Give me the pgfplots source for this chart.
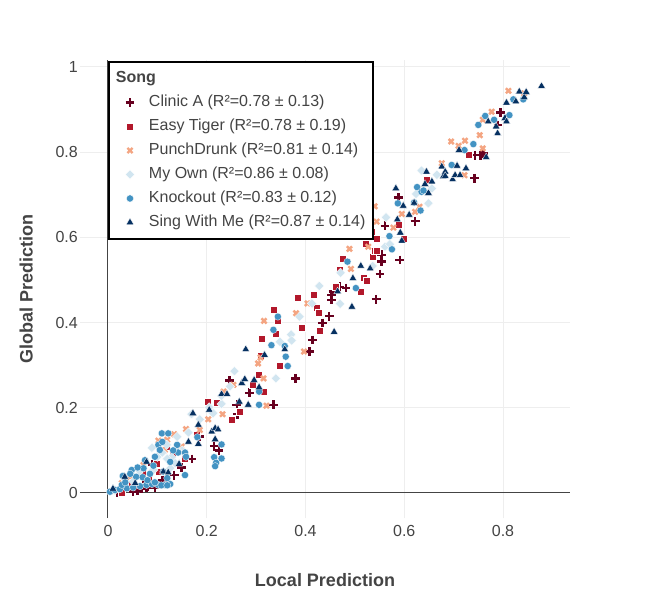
\documentclass[border=0pt]{standalone}
\usepackage{fontspec}
\setmainfont{Liberation Sans}
\usepackage{pgfplots}
\pgfplotsset{compat=1.18}
\definecolor{c1}{RGB}{103,0,31}
\definecolor{c2}{RGB}{178,24,43}
\definecolor{c3}{RGB}{244,165,130}
\definecolor{c4}{RGB}{209,229,240}
\definecolor{c5}{RGB}{67,147,195}
\definecolor{c6}{RGB}{5,48,97}
\definecolor{tc}{HTML}{444444}
\definecolor{gridc}{HTML}{EEEEEE}
\begin{document}
\begin{tikzpicture}
\useasboundingbox (-80bp,-82bp) rectangle (570bp,518bp);
\fill[white] (-80bp,-82bp) rectangle (570bp,518bp);
\begin{axis}[
  scale only axis, width=490bp, height=458bp,
  at={(0,0)}, anchor=south west,
  xmin=-0.0567, xmax=0.9357, ymin=-0.0587, ymax=1.0164,
  xtick={0,0.2,0.4,0.6,0.8}, xticklabels={0,0.2,0.4,0.6,0.8},
  ytick={0,0.2,0.4,0.6,0.8,1}, yticklabels={0,0.2,0.4,0.6,0.8,1},
  /pgf/number format/assume math mode=true,
  axis line style={draw=none}, major tick length=0pt,
  grid=major, major grid style={color=gridc, line width=1bp},
  xticklabel style={font=\fontsize{16bp}{19bp}\selectfont, text=tc, inner sep=0pt, yshift=-7bp},
  yticklabel style={font=\fontsize{16bp}{19bp}\selectfont, text=tc, inner sep=0pt, xshift=-2bp},
  xlabel={\textbf{Local Prediction}}, ylabel={\textbf{Global Prediction}},
  xlabel style={font=\fontsize{18bp}{21bp}\selectfont, text=tc, at={(axis description cs:0.5,-0.1354)}, anchor=center},
  ylabel style={font=\fontsize{18bp}{21bp}\selectfont, text=tc, at={(axis description cs:-0.110,0.5)}, anchor=center},
  legend cell align=left,
  legend image code/.code={\path (0bp,0bp) (24bp,0bp); \draw[#1] plot coordinates {(12bp,0bp)};},
  legend style={at={(axis cs:0,1.0141)}, anchor=north west, draw=black, line width=2bp, fill=white,
    inner xsep=8bp, inner ysep=9bp, column sep=6bp, row sep=9bp,
    font=\fontsize{16bp}{19bp}\selectfont, text=tc,
    nodes={inner sep=0pt, text height=11.5bp, text depth=3.5bp}},
]
\draw[color=tc, line width=1bp] (axis cs:0,-0.0587) -- (axis cs:0,1.0164);
\draw[color=tc, line width=1bp] (axis cs:-0.0567,0) -- (axis cs:0.9357,0);
\addlegendimage{empty legend}
\addlegendentry{\hspace*{-33bp}\textbf{Song}}
\addplot[only marks, mark=+, color=c1, mark size=4.4bp, mark options={line width=2.6bp}] coordinates {
(0.018,0.002)(0.051,0.003)(0.078,0.013)(0.095,0.013)(0.078,0.027)(0.080,0.016)(0.090,0.067)
(0.134,0.042)(0.149,0.060)(0.186,0.132)(0.215,0.110)(0.262,0.185)(0.246,0.264)(0.286,0.235)
(0.261,0.207)(0.335,0.207)(0.380,0.269)(0.408,0.332)(0.414,0.359)(0.434,0.399)(0.448,0.415)
(0.453,0.453)(0.456,0.473)(0.470,0.484)(0.482,0.481)(0.543,0.455)(0.551,0.514)(0.554,0.543)
(0.554,0.559)(0.591,0.547)(0.561,0.627)(0.622,0.638)(0.588,0.693)(0.742,0.739)(0.743,0.793)
(0.754,0.793)(0.760,0.797)(0.790,0.864)(0.795,0.893)(0.453,0.465)(0.030,0.010)(0.060,0.005)
(0.110,0.030)(0.225,0.100)(0.170,0.080)(0.088,0.020)(0.068,0.010)
};
\addlegendentry{Clinic A (R²=0.78 ± 0.13)}
\addplot[only marks, mark=square*, color=c2, mark size=3.5bp, mark options={draw=white, line width=0.3bp, fill=c2}] coordinates {
(0.028,0.000)(0.048,0.023)(0.082,0.031)(0.099,0.070)(0.102,0.050)(0.119,0.109)(0.156,0.081)
(0.180,0.136)(0.201,0.214)(0.220,0.212)(0.250,0.173)(0.267,0.191)(0.292,0.254)(0.306,0.277)
(0.315,0.239)(0.310,0.322)(0.347,0.299)(0.311,0.363)(0.340,0.373)(0.343,0.404)(0.336,0.430)
(0.392,0.389)(0.429,0.380)(0.385,0.459)(0.416,0.465)(0.423,0.436)(0.426,0.423)(0.461,0.484)
(0.470,0.525)(0.475,0.551)(0.512,0.473)(0.517,0.505)(0.524,0.498)(0.536,0.555)(0.541,0.569)
(0.521,0.586)(0.545,0.596)(0.533,0.613)(0.544,0.570)(0.588,0.631)(0.599,0.598)(0.645,0.736)
(0.731,0.795)(0.130,0.090)(0.070,0.045)
};
\addlegendentry{Easy Tiger (R²=0.78 ± 0.19)}
\addplot[only marks, mark=x, color=c3, mark size=3.6bp, mark options={line width=2.4bp}] coordinates {
(0.028,0.023)(0.045,0.038)(0.072,0.066)(0.102,0.123)(0.115,0.101)(0.134,0.138)(0.149,0.109)
(0.158,0.150)(0.186,0.148)(0.203,0.173)(0.232,0.185)(0.234,0.238)(0.254,0.254)(0.304,0.304)
(0.309,0.318)(0.315,0.269)(0.321,0.205)(0.316,0.404)(0.381,0.422)(0.397,0.332)(0.404,0.445)
(0.489,0.573)(0.492,0.526)(0.512,0.606)(0.527,0.578)(0.540,0.673)(0.544,0.637)(0.578,0.623)
(0.595,0.655)(0.622,0.660)(0.631,0.672)(0.676,0.774)(0.695,0.825)(0.710,0.815)(0.722,0.746)
(0.723,0.827)(0.753,0.840)(0.759,0.809)(0.759,0.876)(0.777,0.895)(0.811,0.944)(0.843,0.938)
(0.065,0.045)(0.010,0.005)(0.120,0.125)
};
\addlegendentry{PunchDrunk (R²=0.81 ± 0.14)}
\addplot[only marks, mark=square*, color=c4, mark size=3.3bp, mark options={rotate=45, draw=white, line width=0.3bp, fill=c4}] coordinates {
(0.014,0.007)(0.051,0.027)(0.064,0.052)(0.092,0.054)(0.089,0.106)(0.119,0.113)(0.126,0.058)
(0.129,0.084)(0.136,0.070)(0.140,0.132)(0.163,0.142)(0.169,0.185)(0.186,0.173)(0.205,0.201)
(0.213,0.187)(0.230,0.209)(0.230,0.228)(0.247,0.250)(0.256,0.286)(0.340,0.269)(0.348,0.355)
(0.371,0.372)(0.372,0.358)(0.388,0.414)(0.413,0.445)(0.428,0.486)(0.470,0.444)(0.471,0.517)
(0.536,0.533)(0.561,0.578)(0.571,0.584)(0.563,0.647)(0.624,0.702)(0.649,0.680)(0.656,0.715)
(0.635,0.757)(0.666,0.747)(0.100,0.085)(0.150,0.100)(0.110,0.095)(0.120,0.080)(0.140,0.100)
};
\addlegendentry{My Own (R²=0.86 ± 0.08)}
\addplot[only marks, mark=*, color=c5, mark size=3.6bp, mark options={draw=white, line width=0.3bp, fill=c5}] coordinates {
(0.004,0.003)(0.014,0.007)(0.024,0.009)(0.038,0.011)(0.051,0.013)(0.065,0.016)(0.078,0.019)
(0.089,0.021)(0.102,0.019)(0.115,0.019)(0.126,0.021)(0.028,0.019)(0.057,0.038)(0.070,0.037)
(0.048,0.054)(0.072,0.058)(0.075,0.077)(0.092,0.064)(0.112,0.050)(0.126,0.073)(0.142,0.095)
(0.156,0.095)(0.158,0.085)(0.156,0.042)(0.102,0.113)(0.105,0.101)(0.109,0.140)(0.122,0.140)
(0.140,0.113)(0.181,0.131)(0.230,0.114)(0.215,0.084)(0.219,0.071)(0.230,0.081)(0.217,0.063)
(0.306,0.207)(0.306,0.238)(0.331,0.347)(0.335,0.383)(0.344,0.414)(0.358,0.345)(0.360,0.320)
(0.364,0.298)(0.485,0.543)(0.502,0.481)(0.570,0.603)(0.575,0.572)(0.587,0.680)(0.620,0.682)
(0.633,0.663)(0.626,0.718)(0.635,0.707)(0.639,0.710)(0.696,0.770)(0.722,0.805)(0.740,0.819)
(0.750,0.864)(0.764,0.885)(0.782,0.876)(0.813,0.887)(0.821,0.924)(0.841,0.924)(0.030,0.040)
(0.080,0.030)(0.095,0.025)(0.035,0.025)(0.045,0.045)(0.060,0.060)(0.085,0.045)(0.120,0.035)
(0.132,0.100)(0.095,0.085)(0.110,0.120)(0.108,0.018)(0.120,0.018)
};
\addlegendentry{Knockout (R²=0.83 ± 0.12)}
\addplot[only marks, mark=triangle*, color=c6, mark size=4.4bp, mark options={draw=white, line width=0.3bp, fill=c6}] coordinates {
(0.034,0.038)(0.055,0.023)(0.078,0.073)(0.112,0.050)(0.122,0.048)(0.144,0.068)(0.163,0.120)
(0.172,0.187)(0.183,0.160)(0.183,0.115)(0.205,0.195)(0.210,0.144)(0.217,0.152)(0.223,0.149)
(0.217,0.126)(0.230,0.232)(0.241,0.232)(0.266,0.214)(0.284,0.207)(0.271,0.258)(0.277,0.267)
(0.296,0.265)(0.306,0.248)(0.279,0.337)(0.317,0.324)(0.358,0.337)(0.458,0.378)(0.465,0.473)
(0.494,0.437)(0.496,0.504)(0.512,0.533)(0.531,0.527)(0.583,0.715)(0.586,0.642)(0.592,0.611)
(0.595,0.592)(0.598,0.674)(0.610,0.653)(0.620,0.681)(0.642,0.725)(0.645,0.754)(0.649,0.704)
(0.656,0.731)(0.676,0.766)(0.679,0.743)(0.683,0.754)(0.683,0.744)(0.698,0.736)(0.703,0.746)
(0.707,0.768)(0.711,0.805)(0.713,0.746)(0.725,0.762)(0.766,0.788)(0.770,0.872)(0.786,0.860)
(0.789,0.844)(0.804,0.880)(0.807,0.872)(0.807,0.916)(0.826,0.919)(0.843,0.929)(0.833,0.942)
(0.847,0.941)(0.878,0.955)(0.010,0.010)
};
\addlegendentry{Sing With Me (R²=0.87 ± 0.14)}
\end{axis}
\end{tikzpicture}
\end{document}
